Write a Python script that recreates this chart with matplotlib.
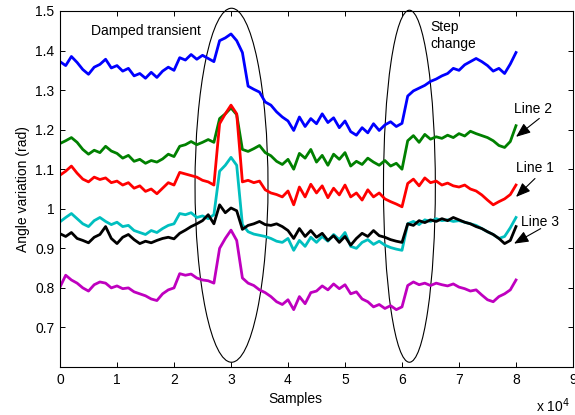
import matplotlib
matplotlib.use("Agg")
import matplotlib.pyplot as plt
from matplotlib.patches import Ellipse
import numpy as np

plt.rcParams['font.family'] = ['Liberation Sans', 'DejaVu Sans']

# sample index (thousands of samples)
samples_k = list(range(0, 81))

blue = [1.372, 1.362, 1.385, 1.370, 1.352, 1.340, 1.358, 1.365, 1.378, 1.356,
        1.362, 1.348, 1.355, 1.336, 1.342, 1.330, 1.345, 1.332, 1.348, 1.358,
        1.350, 1.382, 1.376, 1.390, 1.378, 1.388, 1.380, 1.372, 1.425, 1.432,
        1.442, 1.425, 1.395, 1.310, 1.302, 1.295, 1.270, 1.262, 1.245, 1.232,
        1.222, 1.198, 1.232, 1.208, 1.228, 1.215, 1.240, 1.218, 1.230, 1.205,
        1.222, 1.195, 1.186, 1.205, 1.192, 1.215, 1.198, 1.212, 1.220, 1.208,
        1.216, 1.285, 1.298, 1.305, 1.312, 1.322, 1.328, 1.336, 1.342, 1.355,
        1.350, 1.364, 1.372, 1.380, 1.372, 1.362, 1.348, 1.355, 1.342, 1.366,
        1.395]
green = [1.165, 1.172, 1.180, 1.168, 1.150, 1.138, 1.148, 1.142, 1.158, 1.146,
         1.140, 1.128, 1.135, 1.120, 1.125, 1.115, 1.122, 1.118, 1.126, 1.138,
         1.132, 1.158, 1.162, 1.170, 1.162, 1.168, 1.175, 1.168, 1.228, 1.240,
         1.255, 1.238, 1.150, 1.145, 1.152, 1.160, 1.142, 1.134, 1.120, 1.112,
         1.125, 1.100, 1.140, 1.128, 1.150, 1.118, 1.135, 1.110, 1.138, 1.125,
         1.142, 1.108, 1.120, 1.112, 1.128, 1.118, 1.110, 1.122, 1.108, 1.115,
         1.100, 1.172, 1.185, 1.168, 1.188, 1.176, 1.182, 1.178, 1.186, 1.180,
         1.190, 1.184, 1.196, 1.190, 1.185, 1.180, 1.172, 1.160, 1.155, 1.170,
         1.210]
red = [1.085, 1.095, 1.108, 1.090, 1.075, 1.068, 1.080, 1.074, 1.078, 1.066,
       1.070, 1.060, 1.066, 1.052, 1.058, 1.044, 1.050, 1.038, 1.052, 1.066,
       1.060, 1.092, 1.088, 1.084, 1.080, 1.072, 1.068, 1.060, 1.215, 1.240,
       1.262, 1.240, 1.068, 1.072, 1.066, 1.070, 1.048, 1.040, 1.036, 1.030,
       1.045, 1.010, 1.055, 1.030, 1.062, 1.040, 1.058, 1.028, 1.052, 1.035,
       1.060, 1.030, 1.040, 1.022, 1.048, 1.030, 1.040, 1.025, 1.018, 1.012,
       1.005, 1.064, 1.075, 1.058, 1.078, 1.066, 1.070, 1.060, 1.065, 1.058,
       1.055, 1.060, 1.050, 1.045, 1.035, 1.022, 1.010, 1.018, 1.025, 1.036,
       1.060]
cyan = [0.967, 0.978, 0.988, 0.975, 0.962, 0.955, 0.970, 0.978, 0.968, 0.960,
        0.966, 0.955, 0.958, 0.945, 0.940, 0.935, 0.945, 0.940, 0.950, 0.958,
        0.962, 0.988, 0.985, 0.990, 0.978, 0.982, 0.975, 0.985, 1.095, 1.110,
        1.130, 1.110, 0.960, 0.942, 0.936, 0.933, 0.930, 0.925, 0.918, 0.915,
        0.925, 0.895, 0.920, 0.905, 0.928, 0.915, 0.930, 0.918, 0.935, 0.922,
        0.940, 0.905, 0.900, 0.915, 0.922, 0.910, 0.918, 0.908, 0.902, 0.898,
        0.895, 0.962, 0.968, 0.960, 0.972, 0.968, 0.975, 0.970, 0.972, 0.968,
        0.970, 0.966, 0.962, 0.958, 0.950, 0.942, 0.935, 0.925, 0.930, 0.952,
        0.978]
black = [0.937, 0.930, 0.940, 0.925, 0.920, 0.914, 0.928, 0.935, 0.955, 0.925,
         0.912, 0.928, 0.935, 0.922, 0.912, 0.918, 0.914, 0.920, 0.925, 0.928,
         0.924, 0.938, 0.946, 0.955, 0.962, 0.970, 0.985, 0.962, 1.010, 0.990,
         1.002, 0.995, 0.948, 0.958, 0.962, 0.968, 0.960, 0.958, 0.962, 0.955,
         0.945, 0.925, 0.950, 0.930, 0.945, 0.928, 0.938, 0.920, 0.932, 0.915,
         0.930, 0.908, 0.925, 0.938, 0.930, 0.945, 0.932, 0.928, 0.922, 0.918,
         0.915, 0.962, 0.958, 0.970, 0.965, 0.972, 0.968, 0.975, 0.970, 0.978,
         0.972, 0.966, 0.962, 0.955, 0.950, 0.942, 0.935, 0.925, 0.912, 0.920,
         0.955]
magenta = [0.802, 0.832, 0.820, 0.812, 0.800, 0.792, 0.808, 0.815, 0.812, 0.800,
           0.805, 0.798, 0.800, 0.790, 0.785, 0.780, 0.772, 0.768, 0.785, 0.795,
           0.800, 0.836, 0.832, 0.835, 0.825, 0.820, 0.818, 0.812, 0.900, 0.925,
           0.946, 0.920, 0.825, 0.812, 0.806, 0.795, 0.788, 0.778, 0.765, 0.758,
           0.770, 0.745, 0.778, 0.760, 0.788, 0.792, 0.805, 0.795, 0.810, 0.798,
           0.808, 0.785, 0.790, 0.772, 0.765, 0.752, 0.758, 0.748, 0.755, 0.745,
           0.752, 0.806, 0.815, 0.808, 0.812, 0.806, 0.812, 0.808, 0.805, 0.810,
           0.802, 0.798, 0.792, 0.795, 0.782, 0.770, 0.765, 0.778, 0.785, 0.795,
           0.820]

xtick_labels = ['0', '1', '2', '3', '4', '5', '6', '7', '8', '9']
ytick_labels = ['0.7', '0.8', '0.9', '1', '1.1', '1.2', '1.3', '1.4', '1.5']
line_labels = ['Line 2', 'Line 1', 'Line 3']

x = np.array(samples_k) * 1000.0

fig = plt.figure(figsize=(5.75, 4.15), dpi=100)
ax = fig.add_axes([60/575, 48/415, 513/575, 356/415])

series = [(blue, (0, 0, 1)), (green, (0, 0.5, 0)), (red, (1, 0, 0)),
          (cyan, (0, 0.75, 0.75)), (black, (0, 0, 0)), (magenta, (0.75, 0, 0.75))]
for vals, col in series:
    ax.plot(x, vals, color=col, lw=2.0)

ax.set_xlim(0, 90000)
ax.set_ylim(0.6, 1.5)
ax.set_xticks(np.arange(10) * 10000)
ax.set_xticklabels(xtick_labels)
ax.set_yticks([float(t) for t in ytick_labels])
ax.set_yticklabels(ytick_labels)
ax.tick_params(direction='in', top=True, right=True, length=3.5, width=0.7,
               labelsize=10, pad=4)
for s in ax.spines.values():
    s.set_linewidth(0.8)

ax.set_xlabel('Samples', fontsize=10)
ax.xaxis.label.set_va('center')
ax.xaxis.set_label_coords((295 - 60) / 513, (367 - 399) / 356)
ax.set_ylabel('Angle variation (rad)', fontsize=10, labelpad=4)
fig.text(553/575, 1 - 406/415, 'x 10$^4$', fontsize=10, ha='center', va='center')

# ellipses
ax.add_patch(Ellipse((30090, 1.0595), 12800, 0.895, fill=False, ec='k', lw=0.8, clip_on=False))
ax.add_patch(Ellipse((61300, 1.057), 9100, 0.89, fill=False, ec='k', lw=0.8, clip_on=False))

ax.text(15090, 1.449, 'Damped transient', fontsize=10, ha='center', va='center')
ax.text(64900, 1.438, 'Step\nchange', fontsize=10, ha='left', va='center', linespacing=1.2)

ap = dict(arrowstyle='-|>,head_length=0.55,head_width=0.22', color='k', lw=0.8,
          mutation_scale=16, shrinkA=0, shrinkB=0)
label_pos = [(83070, 1.2519), (83330, 1.1025), (84210, 0.9666)]
arrow_tail = [(84090, 1.2284), (83330, 1.0765), (84330, 0.9499)]
arrow_head = [(80000, 1.1818), (80000, 1.0299), (79650, 0.9119)]
for lab, pos, tail, head in zip(line_labels, label_pos, arrow_tail, arrow_head):
    ax.text(pos[0], pos[1], lab, fontsize=10, ha='center', va='center')
    ax.annotate('', xy=head, xytext=tail, arrowprops=ap)

fig.savefig('out.png', dpi=100)
